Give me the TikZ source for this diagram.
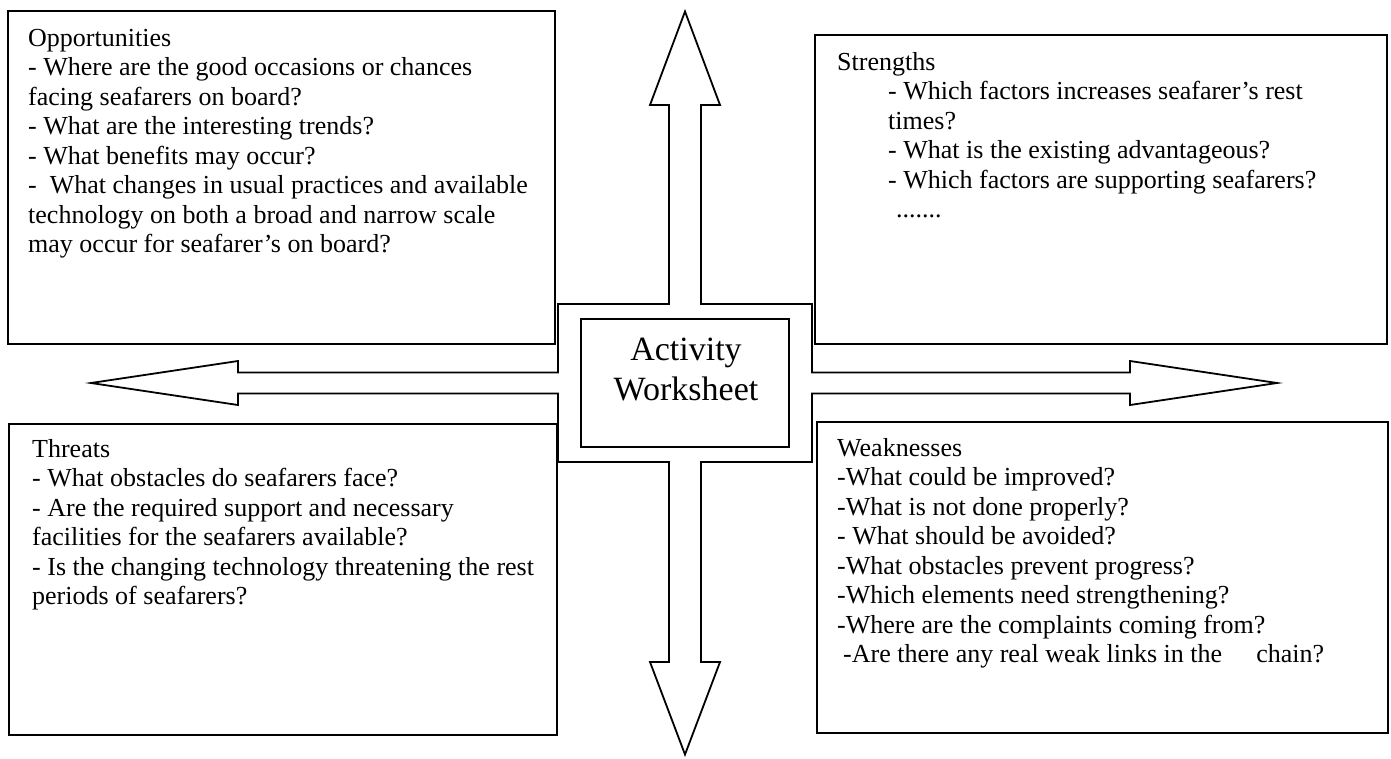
\documentclass[tikz,border=0pt]{standalone}
\usepackage{fontspec}
\setmainfont{Liberation Serif}
\usetikzlibrary{positioning}

\begin{document}
\begin{tikzpicture}[
        x=1pt, y=-1pt,
        panel/.style={rectangle, draw, line width=1.8pt, anchor=north west, inner sep=0pt},
        panelText/.style={align=left, anchor=north west, inner sep=0pt, font=\fontsize{26}{29.5}\selectfont},
        hub/.style={rectangle, draw, line width=1.8pt, minimum width=208pt, minimum height=128pt},
        hubText/.style={align=center, inner sep=0pt, font=\fontsize{34}{40}\selectfont},
        cross/.style={draw, line width=1.8pt, line join=miter}
    ]
    \useasboundingbox (0,0) rectangle (1391,758);

    % four-way arrow round the centre
    \draw[cross] (685,11.5) -- (720,105) -- (701,105) -- (701,304) -- (812,304) -- (812,372.5)
        -- (1130,372.5) -- (1130,361) -- (1277,383) -- (1130,405) -- (1130,393.5) -- (812,393.5)
        -- (812,462) -- (701,462) -- (701,662) -- (720,662) -- (685,754.5) -- (650,662) -- (669,662)
        -- (669,462) -- (558,462) -- (558,393.5) -- (238,393.5) -- (238,405) -- (91,383) -- (238,361)
        -- (238,372.5) -- (558,372.5) -- (558,304) -- (669,304) -- (669,105) -- (650,105) -- cycle;

    \node (hub) [hub] at (685,383) {};
    \node (hubText) [hubText] at (686,369.4) {Activity\\Worksheet};

    % the four panels
    \node (opp) [panel, minimum width=547pt, minimum height=333pt] at (7,10) {};
    \node (str) [panel, minimum width=572pt, minimum height=309pt] at (814,34) {};
    \node (thr) [panel, minimum width=548pt, minimum height=311pt] at (8,423) {};
    \node (weak) [panel, minimum width=571pt, minimum height=311pt] at (816,421) {};

    \node (oppText) [panelText] at ([xshift=21pt, yshift=-18.7pt]opp.north west) {Opportunities\\
        - Where are the good occasions or chances\\
        facing seafarers on board?\\
        - What are the interesting trends?\\
        - What benefits may occur?\\
        -\ \ What changes in usual practices and available\\
        technology on both a broad and narrow scale\\
        may occur for seafarer’s on board?};
    \node (strText) [panelText] at ([xshift=23pt, yshift=-18pt]str.north west) {Strengths\\
        \hspace*{51pt}- Which factors increases seafarer’s rest\\
        \hspace*{51pt}times?\\
        \hspace*{51pt}- What is the existing advantageous?\\
        \hspace*{51pt}- Which factors are supporting seafarers?\\
        \hspace*{59pt}.......};
    \node (thrText) [panelText] at ([xshift=24pt, yshift=-16pt]thr.north west) {Threats\\
        - What obstacles do seafarers face?\\
        - Are the required support and necessary\\
        facilities for the seafarers available?\\
        - Is the changing technology threatening the rest\\
        periods of seafarers?};
    \node (weakText) [panelText] at ([xshift=21pt, yshift=-17pt]weak.north west) {Weaknesses\\
        -What could be improved?\\
        -What is not done properly?\\
        - What should be avoided?\\
        -What obstacles prevent progress?\\
        -Which elements need strengthening?\\
        -Where are the complaints coming from?\\
        \hspace*{6pt}-Are there any real weak links in the\hspace{34pt}chain?};
\end{tikzpicture}
\end{document}
